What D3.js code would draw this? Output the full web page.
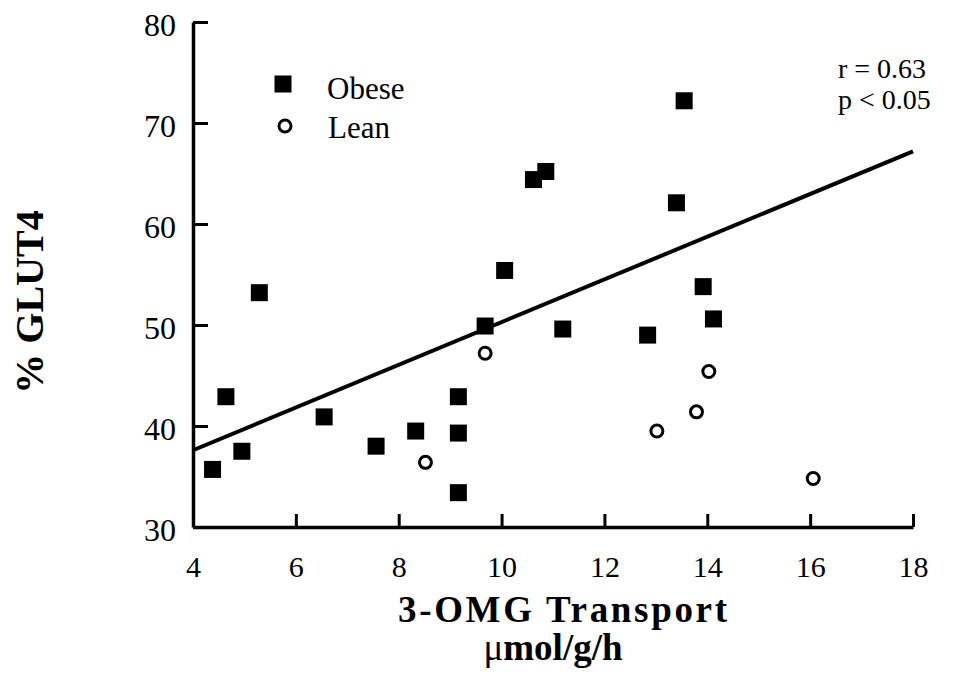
<!DOCTYPE html>
<html>
<head>
<meta charset="utf-8">
<script src="https://cdn.jsdelivr.net/npm/d3@7"></script>
<style>
  body { margin: 0; background: #fff; }
  svg text { font-family: "Liberation Serif", "Times New Roman", serif; fill: #000; }
</style>
</head>
<body>
<svg id="chart" width="973" height="673"></svg>
<script>
// values
const xTicks = [4, 6, 8, 10, 12, 14, 16, 18];
const yTicks = [30, 40, 50, 60, 70, 80];

const obeseX = [4.38, 4.64, 4.95, 5.29, 6.55, 7.56, 8.33, 9.16, 9.16, 9.16, 9.68, 10.06, 10.62, 10.86, 11.19, 12.84, 13.40, 13.55, 13.92, 14.12];
const obeseY = [35.7, 42.9, 37.5, 53.2, 40.9, 38.0, 39.5, 42.9, 39.3, 33.4, 49.9, 55.4, 64.4, 65.2, 49.6, 49.0, 62.1, 72.2, 53.8, 50.6];

const leanX = [8.52, 9.68, 13.02, 13.79, 14.03, 16.06];
const leanY = [36.4, 47.2, 39.5, 41.4, 45.4, 34.8];

// regression line end points
const fitX = [4, 18];
const fitY = [37.6, 67.2];

const statLines = ["r = 0.63", "p < 0.05"];

const svg = d3.select("#chart");

let x = d3.scaleLinear().domain([4, 18]).range([193, 913]);
let y = d3.scaleLinear().domain([30, 80]).range([527, 22]);

// x axis, ticks point up into the plot
let xAxis = d3.axisBottom(x)
    .tickValues(xTicks)
    .tickSizeInner(-13)
    .tickSizeOuter(0)
    .tickPadding(29)
    .tickFormat(d3.format("d"));

let gx = svg.append("g")
    .attr("transform", "translate(0," + y(30) + ")")
    .call(xAxis);
gx.select(".domain").attr("stroke-width", 3.5).attr("stroke", "#000");
gx.selectAll(".tick line").attr("stroke-width", 3).attr("stroke", "#000");
gx.selectAll(".tick text")
    .attr("font-size", 30)
    .attr("font-family", "Liberation Serif, serif");

// y axis, ticks point right
let yAxis = d3.axisLeft(y)
    .tickValues(yTicks)
    .tickSizeInner(-15)
    .tickSizeOuter(0)
    .tickPadding(17)
    .tickFormat(d3.format("d"));

let gy = svg.append("g")
    .attr("transform", "translate(" + x(4) + ",0)")
    .call(yAxis);
gy.select(".domain").attr("stroke-width", 3.5).attr("stroke", "#000");
gy.selectAll(".tick line").attr("stroke-width", 3).attr("stroke", "#000");
gy.selectAll(".tick text")
    .attr("font-size", 32)
    .attr("dy", "0.42em")
    .attr("font-family", "Liberation Serif, serif");

// regression line
let fit = fitX.map((d, i) => [d, fitY[i]]);
svg.append("path")
    .datum(fit)
    .attr("fill", "none")
    .attr("stroke", "#000")
    .attr("stroke-width", 4)
    .attr("d", d3.line().x(d => x(d[0])).y(d => y(d[1])));

// obese: filled squares
let sq = 17;
let obese = obeseX.map((d, i) => ({x: d, y: obeseY[i]}));
svg.append("g").selectAll("rect")
    .data(obese)
    .enter().append("rect")
    .attr("x", d => x(d.x) - sq / 2)
    .attr("y", d => y(d.y) - sq / 2)
    .attr("width", sq)
    .attr("height", sq)
    .attr("fill", "#000");

// lean: open circles
let lean = leanX.map((d, i) => ({x: d, y: leanY[i]}));
svg.append("g").selectAll("circle")
    .data(lean)
    .enter().append("circle")
    .attr("cx", d => x(d.x))
    .attr("cy", d => y(d.y))
    .attr("r", 6)
    .attr("fill", "#fff")
    .attr("stroke", "#000")
    .attr("stroke-width", 3);

// legend
svg.append("rect")
    .attr("x", 283 - sq / 2).attr("y", 84 - sq / 2)
    .attr("width", sq).attr("height", sq)
    .attr("fill", "#000");
svg.append("text")
    .attr("x", 327).attr("y", 99)
    .attr("font-size", 31)
    .text("Obese");
svg.append("circle")
    .attr("cx", 285).attr("cy", 126).attr("r", 6)
    .attr("fill", "#fff").attr("stroke", "#000").attr("stroke-width", 3);
svg.append("text")
    .attr("x", 328).attr("y", 138)
    .attr("font-size", 31)
    .text("Lean");

// r and p
svg.selectAll("text.stat")
    .data(statLines)
    .enter().append("text")
    .attr("class", "stat")
    .attr("x", 838)
    .attr("y", (d, i) => 78 + i * 31)
    .attr("font-size", 28)
    .text(d => d);

// axis titles
svg.append("text")
    .attr("x", 398).attr("y", 622)
    .attr("font-size", 37)
    .attr("font-weight", "bold")
    .attr("textLength", 329)
    .attr("lengthAdjust", "spacing")
    .text("3-OMG Transport");

let unit = svg.append("text")
    .attr("x", 553).attr("y", 660)
    .attr("text-anchor", "middle")
    .attr("font-size", 37)
    .attr("font-weight", "bold");
unit.append("tspan").attr("font-weight", "normal").text("\u03bc");
unit.append("tspan").text("mol/g/h");

svg.append("text")
    .attr("transform", "translate(43,302) rotate(-90)")
    .attr("text-anchor", "middle")
    .attr("font-size", 40)
    .attr("font-weight", "bold")
    .text("% GLUT4");
</script>
</body>
</html>
